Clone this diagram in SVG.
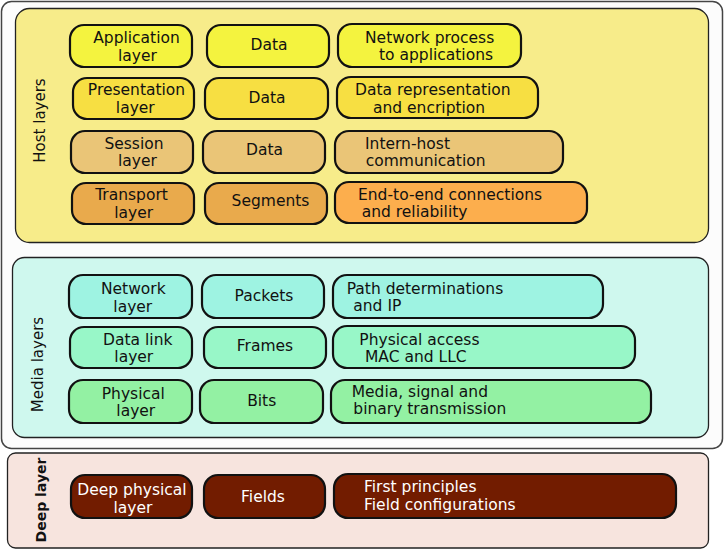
<svg xmlns="http://www.w3.org/2000/svg" width="725" height="549" viewBox="0 0 725 549">
<style>
text{font-family:"DejaVu Sans","Verdana",sans-serif;font-size:15.5px;fill:#111}
.c{text-anchor:middle}
.n{stroke:#111;stroke-width:2.2}
.p{stroke:#222;stroke-width:1.3}
.w{fill:#fff}
.v{font-size:15px}
.l1{fill:#f4f33f}.l2{fill:#f7df42}.l3{fill:#eac577}.l4{fill:#e9aa4c}.l4b{fill:#fcae4d}
.m1{fill:#9ef3e2}.m2{fill:#98f7c8}.m3{fill:#93f1a3}.d{fill:#721c00}
</style>
<rect x="1.5" y="1.5" width="721" height="447" rx="10" fill="#fcfcfc" stroke="#444" stroke-width="1.5"/>
<g id="host-panel">
<rect class="p" x="15.5" y="8.5" width="693" height="234" rx="14" fill="#f7ec8a"/>
<text class="c v" transform="translate(45,120.5) rotate(-90)">Host layers</text>
</g>
<g id="media-panel">
<rect class="p" x="12.5" y="257.5" width="696" height="180" rx="12" fill="#cff8ee"/>
<text class="c v" transform="translate(43,364.5) rotate(-90)">Media layers</text>
</g>
<g id="deep-panel">
<rect class="p" x="7.5" y="453" width="701" height="95" rx="8" fill="#f7e4de"/>
<text class="c" font-weight="bold" style="font-size:14px" transform="translate(46,500) rotate(-90)">Deep layer</text>
</g>
<g id="application"><rect class="n l1" x="70" y="25" width="122" height="42" rx="14"/><text class="c" x="136.5" y="42.7">Application</text><text class="c" x="137.5" y="60.5">layer</text></g>
<g id="app-data"><rect class="n l1" x="207" y="25" width="122" height="42" rx="14"/><text class="c" x="269" y="49.5">Data</text></g>
<g id="app-desc"><rect class="n l1" x="338" y="24" width="183" height="43" rx="14"/><text x="365" y="43">Network process</text><text x="379" y="60">to applications</text></g>
<g id="presentation"><rect class="n l2" x="73" y="78" width="121" height="41" rx="14"/><text class="c" x="136.5" y="95">Presentation</text><text class="c" x="135.3" y="112.5">layer</text></g>
<g id="pres-data"><rect class="n l2" x="205" y="78" width="123" height="41" rx="14"/><text class="c" x="267" y="102.5">Data</text></g>
<g id="pres-desc"><rect class="n l2" x="337" y="77" width="201" height="41" rx="14"/><text x="355" y="95">Data representation</text><text x="373" y="112.5">and encription</text></g>
<g id="session"><rect class="n l3" x="71" y="131" width="122" height="42" rx="14"/><text class="c" x="134" y="148.5">Session</text><text class="c" x="137.5" y="166">layer</text></g>
<g id="sess-data"><rect class="n l3" x="203" y="131" width="122" height="42" rx="14"/><text class="c" x="264.5" y="155">Data</text></g>
<g id="sess-desc"><rect class="n l3" x="335" y="131" width="228" height="42" rx="14"/><text x="365" y="148.5">Intern-host</text><text x="365.7" y="166">communication</text></g>
<g id="transport"><rect class="n l4" x="72" y="183" width="122" height="41" rx="14"/><text class="c" x="131.5" y="200">Transport</text><text class="c" x="133.7" y="217.5">layer</text></g>
<g id="trans-data"><rect class="n l4" x="205" y="183" width="122" height="41" rx="14"/><text class="c" x="270.5" y="206">Segments</text></g>
<g id="trans-desc"><rect class="n l4b" x="335" y="182" width="252" height="41" rx="14"/><text x="358" y="199.5">End-to-end connections</text><text x="361.7" y="217">and reliability</text></g>
<g id="network"><rect class="n m1" x="69" y="275" width="123" height="43" rx="14"/><text class="c" x="133.3" y="294">Network</text><text class="c" x="132.8" y="311.5">layer</text></g>
<g id="net-data"><rect class="n m1" x="202" y="275" width="122" height="43" rx="14"/><text class="c" x="264" y="300.7">Packets</text></g>
<g id="net-desc"><rect class="n m1" x="333" y="275" width="270" height="43" rx="14"/><text x="346.7" y="293.5">Path determinations</text><text x="353.3" y="311">and IP</text></g>
<g id="datalink"><rect class="n m2" x="70" y="327" width="122" height="41" rx="14"/><text class="c" x="137.8" y="345">Data link</text><text class="c" x="133.8" y="361.5">layer</text></g>
<g id="dl-data"><rect class="n m2" x="204" y="327" width="122" height="41" rx="14"/><text class="c" x="265" y="351">Frames</text></g>
<g id="dl-desc"><rect class="n m2" x="333" y="326" width="302" height="42" rx="14"/><text x="359.3" y="344.5">Physical access</text><text x="365" y="361.5">MAC and LLC</text></g>
<g id="physical"><rect class="n m3" x="69" y="380" width="123" height="43" rx="14"/><text class="c" x="133.3" y="398.5">Physical</text><text class="c" x="135.8" y="416">layer</text></g>
<g id="phys-data"><rect class="n m3" x="200" y="380" width="123" height="43" rx="14"/><text class="c" x="261.7" y="405.8">Bits</text></g>
<g id="phys-desc"><rect class="n m3" x="331" y="380" width="320" height="43" rx="14"/><text x="351.7" y="396.7">Media, signal and</text><text x="353.3" y="413.5">binary transmission</text></g>
<g id="deep-physical"><rect class="n d" x="71" y="475" width="121" height="43" rx="14"/><text class="c w" x="132" y="495">Deep physical</text><text class="c w" x="133" y="512.5">layer</text></g>
<g id="deep-data"><rect class="n d" x="204" y="475" width="121" height="43" rx="14"/><text class="c w" x="263" y="501.5">Fields</text></g>
<g id="deep-desc"><rect class="n d" x="334" y="474" width="342" height="44" rx="14"/><text class="w" x="364" y="492">First principles</text><text class="w" x="364" y="510">Field configurations</text></g>
<g id="connectors"></g>
</svg>
